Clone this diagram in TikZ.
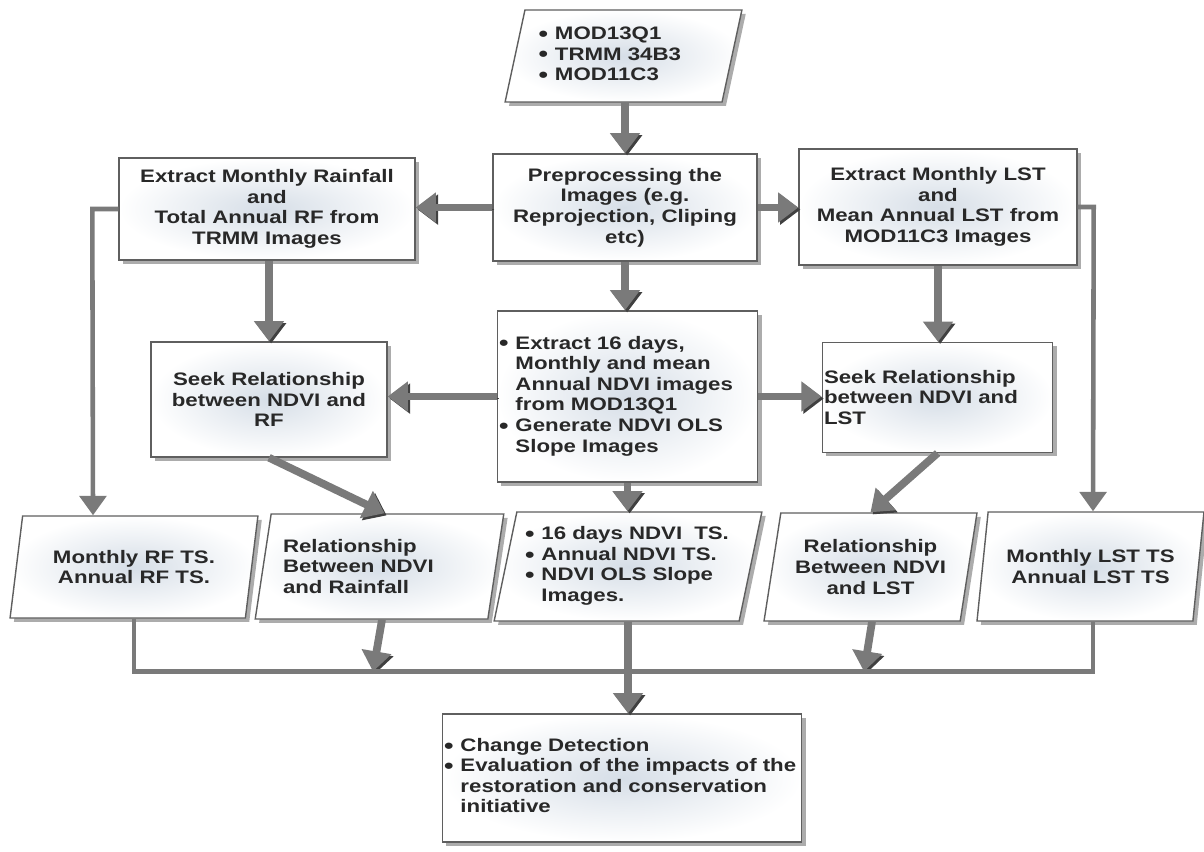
\documentclass[tikz,border=0pt]{standalone}
\usepackage{fontspec}
\setmainfont{Liberation Sans}[FakeStretch=1.23]
\usetikzlibrary{arrows.meta,shapes.geometric,shadows,positioning,calc}
\definecolor{boxline}{RGB}{95,95,95}
\definecolor{arrowgray}{RGB}{122,122,122}
\definecolor{boxshade}{RGB}{214,222,231}
\definecolor{txtgray}{RGB}{40,40,40}
\newcommand{\bdot}{\smash{\raisebox{-1pt}{\fontsize{12.5}{11.7}\selectfont\textbullet}}}
\tikzset{
    % process boxes (rectangles)
    procbox/.style={
        rectangle, draw=boxline, line width=0.8pt,
        inner color=boxshade, outer color=white,
        drop shadow={shadow xshift=2.2pt, shadow yshift=-2.2pt, fill=black!65},
        font=\fontsize{10.3}{11.7}\selectfont\bfseries, text=txtgray,
        align=center, inner sep=1pt
    },
    % data boxes (parallelograms)
    databox/.style={
        procbox, trapezium, trapezium left angle=76,
        trapezium right angle=104, trapezium stretches=true
    },
}
\tikzset{
    % connectors
    bigedge/.style={line width=4.4pt, draw=arrowgray,
        -{Triangle[width=16.5pt,length=11.5pt]},
        preaction={draw=black!75, transform canvas={xshift=1.2pt,yshift=-1.2pt}}},
    thinedge/.style={line width=2.6pt, draw=arrowgray},
    thinarrow/.style={thinedge, -{Triangle[width=15pt,length=11pt]}},
}

\begin{document}
\begin{tikzpicture}
  \useasboundingbox (0,0) rectangle (24.08,-17.04);
  % top row
  \node[databox, trapezium left angle=75, trapezium right angle=105,
        text width=3.4cm, align=left, minimum width=4.74cm, minimum height=1.84cm] (input) at (12.47,-1.12)
    {\begin{tabular}{@{}l@{\hspace{4pt}}l@{}}\bdot&MOD13Q1\\ \bdot&TRMM 34B3\\ \bdot&MOD11C3\end{tabular}};
  \node[procbox, minimum width=5.28cm, minimum height=2.14cm] (prep) at (12.5,-4.15)
    {Preprocessing the\\Images (e.g.\\Reprojection, Cliping\\etc)};
  \node[procbox, minimum width=5.92cm, minimum height=2.04cm] (rain) at (5.34,-4.18)
    {Extract Monthly Rainfall\\and\\Total Annual RF from\\TRMM Images};
  \node[procbox, minimum width=5.56cm, minimum height=2.32cm] (lst) at (18.76,-4.14)
    {Extract Monthly LST\\and\\Mean Annual LST from\\MOD11C3 Images};
  % middle row
  \node[procbox, text width=5.14cm, align=left, minimum height=3.42cm] (ndvi) at (12.55,-7.93)
    {\begin{tabular}{@{}l@{\hspace{4pt}}l@{}}\bdot&Extract 16 days,\\ &Monthly and mean\\ &Annual NDVI images\\ &from MOD13Q1\\ \bdot&Generate NDVI OLS\\ &Slope Images\end{tabular}};
  \node[procbox, minimum width=4.72cm, minimum height=2.3cm] (seekrf) at (5.38,-7.99)
    {Seek Relationship\\between NDVI and\\RF};
  \node[procbox, text width=4.54cm, align=left, minimum height=2.2cm] (seeklst) at (18.75,-7.95)
    {Seek Relationship\\between NDVI and\\LST};
  % bottom row
  \node[databox, minimum width=4.96cm, minimum height=2.04cm] (tsrf) at (2.68,-11.34)
    {Monthly RF TS.\\Annual RF TS.};
  \node[databox, text width=3.86cm, align=left, minimum width=4.98cm, minimum height=2.1cm] (relrf) at (7.59,-11.33)
    {Relationship\\Between NDVI\\and Rainfall};
  \node[databox, text width=4.12cm, align=left, minimum width=5.36cm, minimum height=2.18cm] (tsndvi) at (12.56,-11.33)
    {\begin{tabular}{@{}l@{\hspace{4pt}}l@{}}\bdot&16 days NDVI\ \ TS.\\ \bdot&Annual NDVI TS.\\ \bdot&NDVI OLS Slope\\ &Images.\end{tabular}};
  \node[databox, minimum width=4.26cm, minimum height=2.16cm] (rellst) at (17.41,-11.34)
    {Relationship\\Between NDVI\\and LST};
  \node[databox, minimum width=4.54cm, minimum height=2.18cm] (tslst) at (21.81,-11.33)
    {Monthly LST TS\\Annual LST TS};
  \node[procbox, text width=7.12cm, align=left, minimum height=2.56cm] (final) at (12.44,-15.56)
    {\begin{tabular}{@{}l@{\hspace{4pt}}l@{}}\bdot&Change Detection\\ \bdot&Evaluation of the impacts of the\\ &restoration and conservation\\ &initiative\end{tabular}};
  \coordinate (bus) at (0,-13.43);

  % thick arrows
  \draw[bigedge] (input.south -| prep.north) -- (prep.north);
  \draw[bigedge] (prep.west) -- (prep.west -| rain.east);
  \draw[bigedge] (prep.east) -- (prep.east -| lst.west);
  \draw[bigedge] (prep.south) -- (prep.south |- ndvi.north);
  \draw[bigedge] (rain.south -| seekrf.north) -- (seekrf.north);
  \draw[bigedge] (lst.south) -- (lst.south |- seeklst.north);
  \draw[bigedge] (ndvi.west) -- (ndvi.west -| seekrf.east);
  \draw[bigedge] (ndvi.east) -- (ndvi.east -| seeklst.west);
  \draw[bigedge] (ndvi.south) -- (ndvi.south |- tsndvi.north);
  \draw[bigedge] (seekrf.south) -- ([xshift=0.1cm]relrf.north);
  \draw[bigedge] (seeklst.south) -- (rellst.north);
  \draw[bigedge] ([xshift=0.05cm]relrf.south) -- ([xshift=-0.13cm]relrf.south |- bus);
  \draw[bigedge] ([xshift=0.03cm]rellst.south) -- ([xshift=-0.13cm]rellst.south |- bus);
  \draw[bigedge] (tsndvi.south) -- (tsndvi.south |- final.north);

  % thin lines
  \draw[thinarrow] (rain.west) -- ++(-0.52,0) -- ([xshift=-0.82cm]tsrf.north);
  \draw[thinarrow] (lst.east) -- ++(0.32,0) -- ([xshift=0.05cm]tslst.north);
  \draw[thinedge] (tsrf.south) -- (tsrf.south |- bus) -| ([xshift=0.05cm]tslst.south);
\end{tikzpicture}
\end{document}
